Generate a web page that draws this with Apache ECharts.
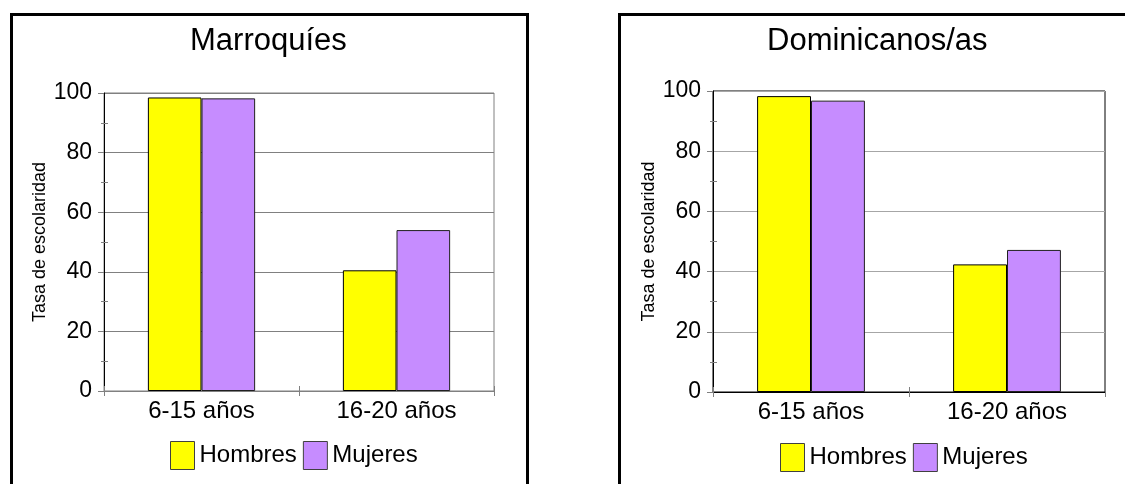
<!DOCTYPE html>
<html>
<head>
<meta charset="utf-8">
<title>Tasa de escolaridad</title>
<script src="https://cdn.jsdelivr.net/npm/echarts@6/dist/echarts.min.js"></script>
<style>
  html, body { margin: 0; padding: 0; background: #fff; }
  #chart { width: 1125px; height: 484px; }
</style>
</head>
<body>
<div id="chart"></div>
<script>
// Age groups on the category axis
const categories = ['6-15 años', '16-20 años'];
const seriesNames = ['Hombres', 'Mujeres'];

// Schooling rate (%) by sex, Moroccan population
const marroquiesHombres = [98.5, 40.5];
const marroquiesMujeres = [98.2, 54.0];

// Schooling rate (%) by sex, Dominican population
const dominicanosHombres = [98.3, 42.4];
const dominicanosMujeres = [96.8, 47.2];

// Panel titles and value axis ticks
const panelTitles = ['Marroquíes', 'Dominicanos/as'];
const yAxisName = 'Tasa de escolaridad';
const yTicks = { min: 0, max: 100, interval: 20 };

const FONT = 'Liberation Sans, Arial, Helvetica, sans-serif';
const YELLOW = '#FFFF00';
const PURPLE = '#C68CFF';

const panels = [
  { grid: { left: 104, top: 93, width: 390, height: 298 }, frameX: 10,
    titleLeft: 190, legendLeft: 170, legendTop: 441,
    border: '#808080', grid_line: '#808080', xLine: '#808080',
    hombres: marroquiesHombres, mujeres: marroquiesMujeres },
  { grid: { left: 713, top: 91, width: 392, height: 301 }, frameX: 618,
    titleLeft: 767, legendLeft: 780, legendTop: 443,
    border: '#000000', grid_line: '#a6a6a6', xLine: '#000000',
    hombres: dominicanosHombres, mujeres: dominicanosMujeres }
];

const grids = [], xAxes = [], yAxes = [], series = [], titles = [], legends = [], graphics = [];

panels.forEach((p, i) => {
  grids.push(Object.assign({ show: true, borderColor: p.border, borderWidth: 1, backgroundColor: '#fff' }, p.grid));

  // outer frame of each panel
  graphics.push({
    type: 'rect', z: -1,
    shape: { x: p.frameX + 1.5, y: 14.5, width: 516, height: 600 },
    style: { fill: '#fff', stroke: '#000', lineWidth: 3 }
  });

  titles.push({
    text: panelTitles[i], left: p.titleLeft, top: 26, padding: 0,
    textStyle: { fontFamily: FONT, fontSize: 31, fontWeight: 'normal', color: '#000' }
  });

  legends.push({
    data: seriesNames, left: p.legendLeft, top: p.legendTop, padding: 0,
    orient: 'horizontal', icon: 'rect', itemWidth: 24, itemHeight: 28, itemGap: 6,
    selectedMode: false,
    itemStyle: { borderColor: '#404040', borderWidth: 1 },
    textStyle: { fontFamily: FONT, fontSize: 24, color: '#000' }
  });

  // main category axis with outward ticks
  xAxes.push({
    type: 'category', gridIndex: i, position: 'bottom', data: categories,
    axisLine: { show: true, lineStyle: { color: p.xLine, width: 1 } },
    axisTick: { show: true, length: 5, interval: 0, lineStyle: { color: '#808080' } },
    axisLabel: { fontFamily: FONT, fontSize: 24, color: '#000', margin: 8 },
    splitLine: { show: false }
  });
  // overlay category axis drawing the inner half of the ticks
  xAxes.push({
    type: 'category', gridIndex: i, position: 'bottom', data: categories,
    axisLine: { show: false },
    axisTick: { show: true, inside: true, length: 5, interval: 0, lineStyle: { color: '#808080' } },
    axisLabel: { show: false }, splitLine: { show: false }
  });

  yAxes.push({
    type: 'value', gridIndex: i, position: 'left',
    min: yTicks.min, max: yTicks.max, interval: yTicks.interval,
    name: yAxisName, nameLocation: 'middle', nameGap: 55, nameRotate: 90,
    nameTextStyle: { fontFamily: FONT, fontSize: 18, color: '#000' },
    axisLine: { show: true, lineStyle: { color: '#000', width: 1 } },
    axisTick: { show: true, length: 6, lineStyle: { color: '#808080' } },
    minorTick: { show: true, splitNumber: 2, length: 3, lineStyle: { color: '#808080' } },
    axisLabel: { fontFamily: FONT, fontSize: 23, color: '#000', margin: 12 },
    splitLine: { show: true, lineStyle: { color: p.grid_line, width: 1 } }
  });
  // overlay value axis drawing the inner half of the minor ticks
  yAxes.push({
    type: 'value', gridIndex: i, position: 'left',
    min: yTicks.min, max: yTicks.max, interval: yTicks.interval,
    axisLine: { show: false },
    axisTick: { show: false, inside: true },
    minorTick: { show: true, splitNumber: 2, length: 4, lineStyle: { color: '#808080' } },
    axisLabel: { show: false }, splitLine: { show: false }
  });

  series.push({
    name: seriesNames[0], type: 'bar', xAxisIndex: i * 2, yAxisIndex: i * 2,
    data: p.hombres, barGap: '0%', barCategoryGap: '45%',
    itemStyle: { color: YELLOW, borderColor: '#000', borderWidth: 1 },
    emphasis: { disabled: true }
  });
  series.push({
    name: seriesNames[1], type: 'bar', xAxisIndex: i * 2, yAxisIndex: i * 2,
    data: p.mujeres, barGap: '0%', barCategoryGap: '45%',
    itemStyle: { color: PURPLE, borderColor: '#202020', borderWidth: 1 },
    emphasis: { disabled: true }
  });
});

const chart = echarts.init(document.getElementById('chart'), null, { renderer: 'canvas' });
chart.setOption({
  animation: false,
  backgroundColor: '#fff',
  graphic: graphics,
  title: titles,
  legend: legends,
  grid: grids,
  xAxis: xAxes,
  yAxis: yAxes,
  series: series
});
</script>
</body>
</html>
